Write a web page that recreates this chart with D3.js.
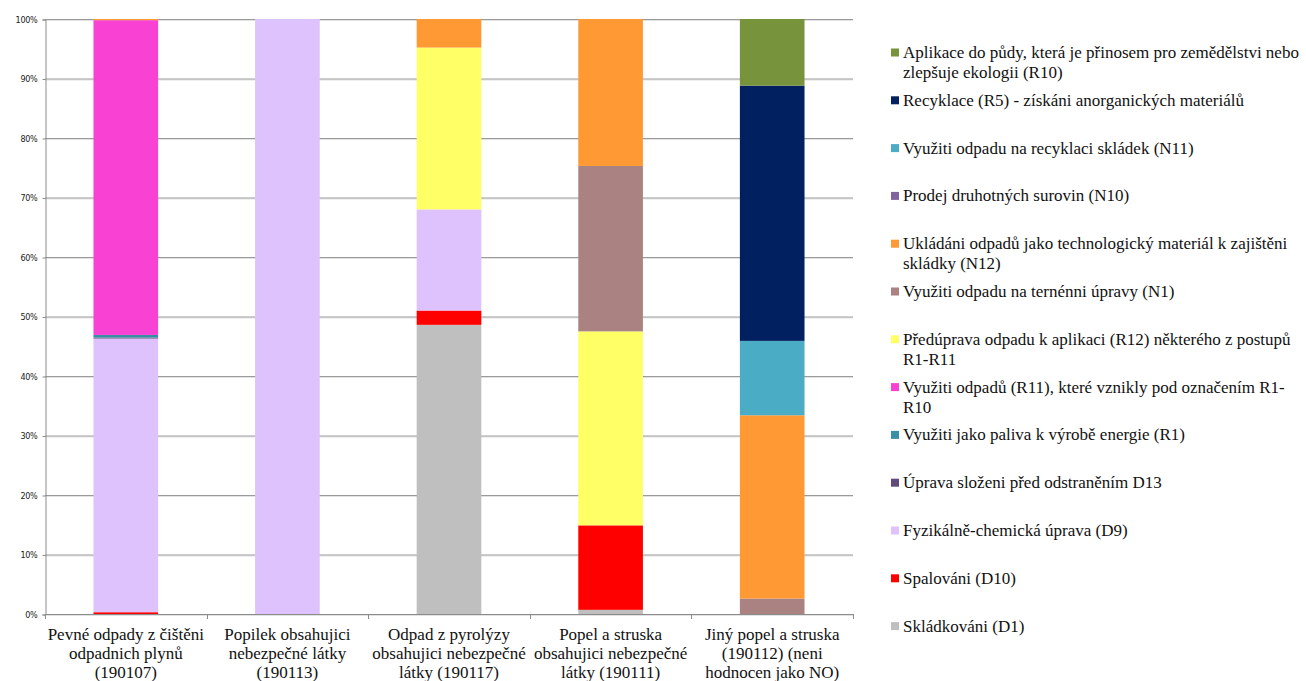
<!DOCTYPE html>
<html>
<head>
<meta charset="utf-8">
<script src="https://cdn.jsdelivr.net/npm/d3@7"></script>
<style>
  html, body { margin: 0; padding: 0; background: #fff; }
  svg { display: block; }
</style>
</head>
<body>
<svg id="chart" width="1306" height="681"></svg>
<script>
// Categories of waste (x axis), each label split into lines
const categories = ["190107", "190113", "190117", "190111", "190112"];
const categoryLabels = [
  ["Pevné odpady z čištěni", "odpadnich plynů", "(190107)"],
  ["Popilek obsahujici", "nebezpečné látky", "(190113)"],
  ["Odpad z pyrolýzy", "obsahujici nebezpečné", "látky (190117)"],
  ["Popel a struska", "obsahujici nebezpečné", "látky (190111)"],
  ["Jiný popel a struska", "(190112) (neni", "hodnocen jako NO)"]
];

// Treatment methods, listed from the bottom of the stack upwards
const seriesKeys = ["D1", "D10", "D9", "D13", "R1", "R11", "R12", "N1", "N12", "N10", "N11", "R5", "R10"];
const seriesLabels = [
  ["Skládkováni (D1)"],
  ["Spalováni (D10)"],
  ["Fyzikálně-chemická úprava (D9)"],
  ["Úprava složeni před odstraněním D13"],
  ["Využiti jako paliva k výrobě energie (R1)"],
  ["Využiti odpadů (R11), které vznikly pod označením R1-", "R10"],
  ["Předúprava odpadu k aplikaci (R12) některého z postupů", "R1-R11"],
  ["Využiti odpadu na ternénni úpravy (N1)"],
  ["Ukládáni odpadů jako technologický materiál k zajištěni", "skládky (N12)"],
  ["Prodej druhotných surovin (N10)"],
  ["Využiti odpadu na recyklaci skládek (N11)"],
  ["Recyklace (R5) - získáni anorganických materiálů"],
  ["Aplikace do půdy, která je přinosem pro zemědělstvi nebo", "zlepšuje ekologii (R10)"]
];
const seriesColors = ["#BFBFBF", "#FF0000", "#DDC2FD", "#604A7B", "#3A8FA5", "#F941D4",
                      "#FFFF66", "#AA8282", "#FF9933", "#8064A2", "#4BACC6", "#002060", "#77933C"];

// Share (%) of each method per category, one array per series (order = categories)
const D1  = [0,    0,   48.6, 0.7,  0];
const D10 = [0.3,  0,   2.4,  14.2, 0];
const D9  = [46.0, 100, 17.0, 0,    0];
const D13 = [0.15, 0,   0,    0,    0];
const R1  = [0.45, 0,   0,    0,    0];
const R11 = [52.9, 0,   0,    0,    0];
const R12 = [0,    0,   27.2, 32.6, 0];
const N1  = [0,    0,   0,    27.8, 2.6];
const N12 = [0.2,  0,   4.8,  24.7, 30.8];
const N10 = [0,    0,   0,    0,    0];
const N11 = [0,    0,   0,    0,    12.5];
const R5  = [0,    0,   0,    0,    42.9];
const R10 = [0,    0,   0,    0,    11.2];

const yTicks = [0, 10, 20, 30, 40, 50, 60, 70, 80, 90, 100];

const seriesValues = [D1, D10, D9, D13, R1, R11, R12, N1, N12, N10, N11, R5, R10];
const table = categories.map((c, i) => {
  const row = { cat: c };
  seriesKeys.forEach((k, s) => { row[k] = seriesValues[s][i]; });
  return row;
});

const svg = d3.select("#chart");
const plot = { left: 45, right: 853, top: 19, bottom: 614 };

const x = d3.scaleBand().domain(categories)
  .range([plot.left, plot.right]).paddingInner(0.6).paddingOuter(0.3);
const y = d3.scaleLinear().domain([0, 100]).range([plot.bottom, plot.top]);

// horizontal gridlines
const grid = svg.append("g");
grid.selectAll("line.shadow").data(yTicks).join("line")
  .attr("x1", plot.left).attr("x2", plot.right)
  .attr("y1", d => y(d) + 1.5).attr("y2", d => y(d) + 1.5)
  .attr("stroke", "#e2e2e2").attr("stroke-width", 1);
grid.selectAll("line.main").data(yTicks).join("line")
  .attr("x1", plot.left).attr("x2", plot.right)
  .attr("y1", d => y(d) + 0.5).attr("y2", d => y(d) + 0.5)
  .attr("stroke", "#9a9a9a").attr("stroke-width", 1);

// stacked bars
const stack = d3.stack().keys(seriesKeys);
const layers = stack(table);
const colorOf = d3.scaleOrdinal().domain(seriesKeys).range(seriesColors);

svg.append("g").selectAll("g").data(layers).join("g")
  .attr("fill", d => colorOf(d.key))
  .selectAll("rect").data(d => d.filter(p => p[1] - p[0] > 0)).join("rect")
  .attr("x", d => x(d.data.cat))
  .attr("width", x.bandwidth())
  .attr("y", d => y(d[1]))
  .attr("height", d => y(d[0]) - y(d[1]));

// y axis
const yAxis = d3.axisLeft(y).tickValues(yTicks).tickFormat(d => d + "%").tickSize(3).tickPadding(5);
const gy = svg.append("g").attr("transform", `translate(${plot.left + 0.5},0.5)`).call(yAxis);
gy.select(".domain").attr("stroke", "#8c8c8c");
gy.selectAll(".tick line").attr("stroke", "#8c8c8c");
gy.selectAll(".tick text")
  .attr("font-family", "'DejaVu Sans Condensed', 'DejaVu Sans', sans-serif")
  .attr("font-size", 9).attr("fill", "#222").attr("letter-spacing", -0.3);

// x axis line with ticks at category boundaries
const bounds = [plot.left].concat(categories.map((c, i) => plot.left + (i + 1) * (plot.right - plot.left) / categories.length));
svg.append("line").attr("x1", plot.left).attr("x2", plot.right)
  .attr("y1", y(0) + 0.5).attr("y2", y(0) + 0.5).attr("stroke", "#8c8c8c");
svg.append("g").selectAll("line").data(bounds).join("line")
  .attr("x1", d => Math.round(d) + 0.5).attr("x2", d => Math.round(d) + 0.5)
  .attr("y1", y(0)).attr("y2", y(0) + 5).attr("stroke", "#8c8c8c");

// category labels
const fontSerif = "'Liberation Serif', 'DejaVu Serif', serif";
const xl = svg.append("g");
categories.forEach((c, i) => {
  const cx = x(c) + x.bandwidth() / 2;
  const t = xl.append("text").attr("x", cx).attr("y", 639.5)
    .attr("text-anchor", "middle").attr("font-family", fontSerif)
    .attr("font-size", 17).attr("fill", "#111");
  categoryLabels[i].forEach((line, j) => {
    t.append("tspan").attr("x", cx).attr("dy", j === 0 ? 0 : 19).text(line);
  });
});

// legend: drawn from the top of the stack downwards
const legend = svg.append("g");
const order = d3.range(seriesKeys.length).reverse();
order.forEach((s, j) => {
  const cy = 52.5 + j * 47.8;
  legend.append("rect").attr("x", 891).attr("y", cy - 4).attr("width", 8).attr("height", 8)
    .attr("fill", seriesColors[s]);
  const t = legend.append("text").attr("x", 903).attr("y", cy + 5.5)
    .attr("font-family", fontSerif).attr("font-size", 17).attr("fill", "#111");
  seriesLabels[s].forEach((line, k) => {
    t.append("tspan").attr("x", 903).attr("dy", k === 0 ? 0 : 20).text(line);
  });
});
</script>
</body>
</html>
